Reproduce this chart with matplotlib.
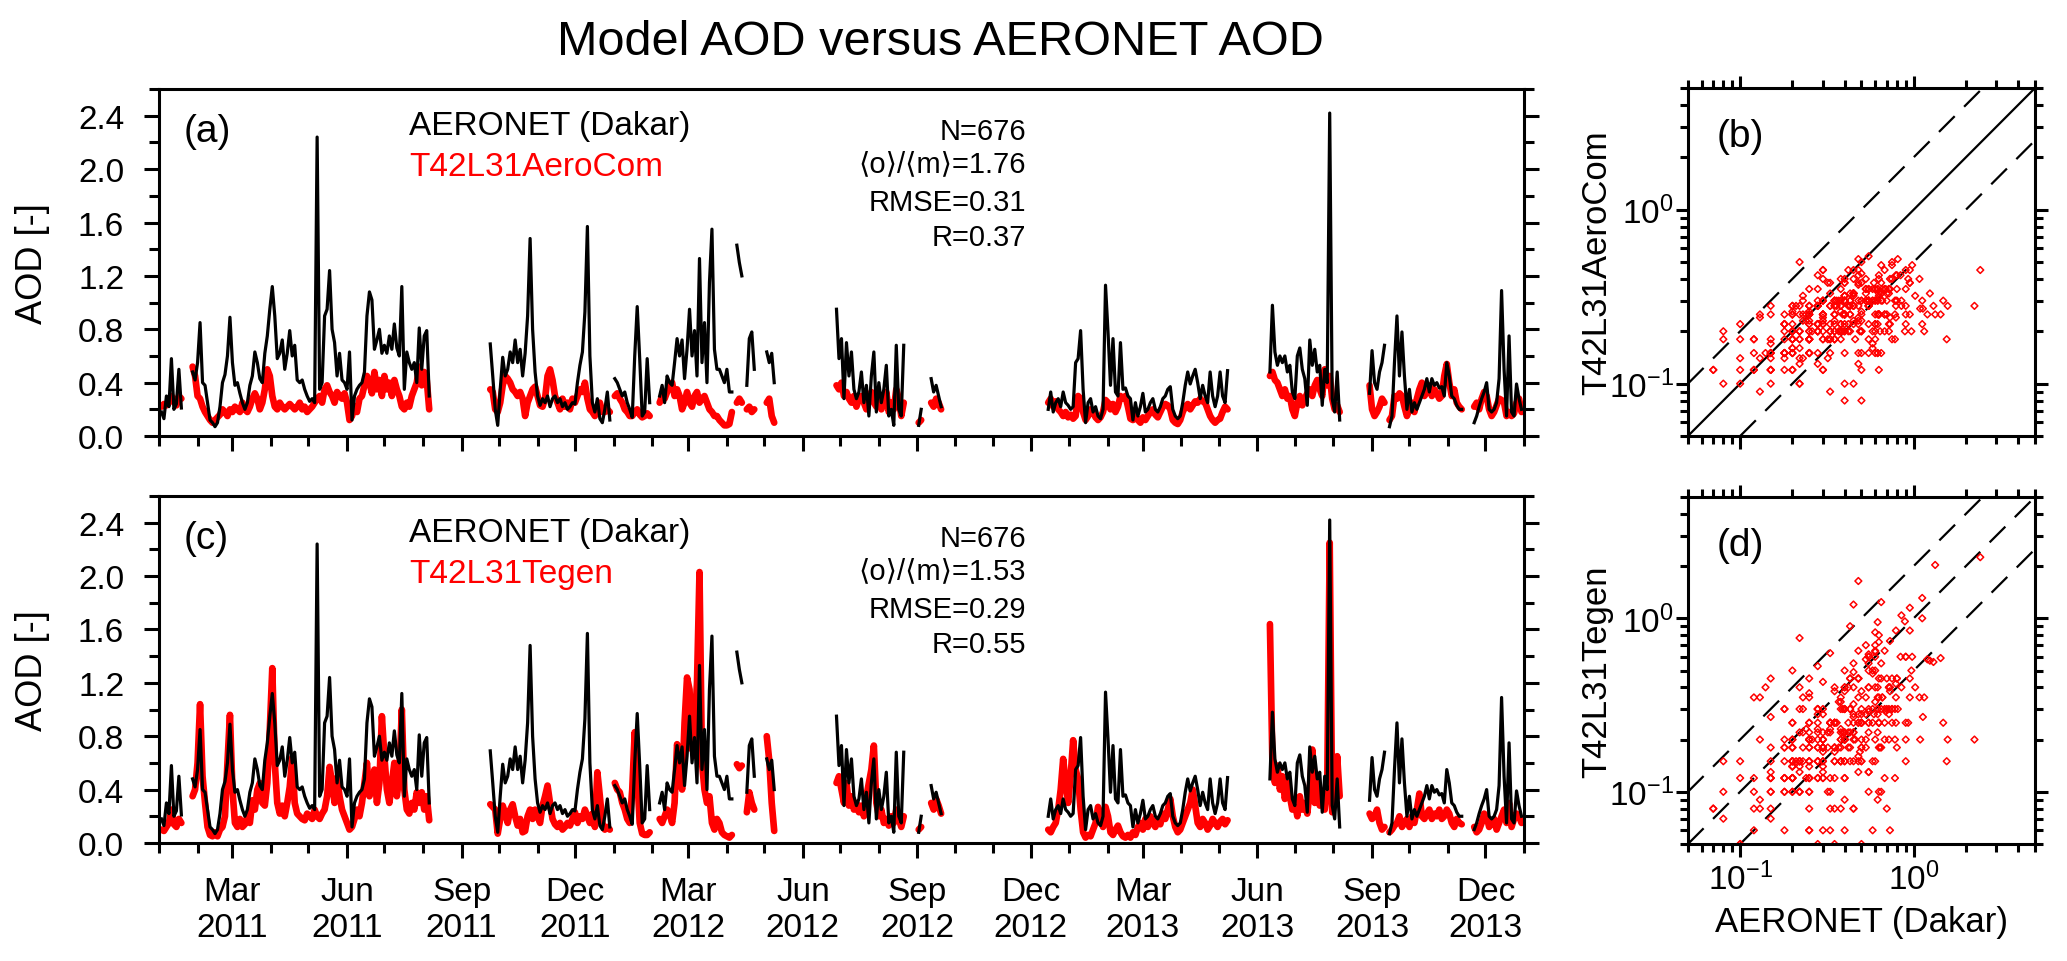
import numpy as np
import pandas as pd
import matplotlib
matplotlib.use("Agg")
import matplotlib.pyplot as plt
import matplotlib.dates as mdates
from matplotlib.ticker import MultipleLocator, LogLocator, FuncFormatter, NullFormatter

plt.rcParams["font.family"] = ["Liberation Sans", "DejaVu Sans"]
plt.rcParams["mathtext.default"] = "regular"

# AERONET Dakar and model AOD, every second day
# each row of the lists below is one stretch of observations without a gap
seg_start = [
    "2011-01-03", "2011-01-28", "2011-09-24", "2012-01-02", "2012-02-07",
    "2012-04-09", "2012-04-17", "2012-05-03", "2012-06-28", "2012-09-02",
    "2012-09-12", "2012-12-15", "2013-06-11", "2013-08-30", "2013-09-15",
    "2013-11-22",
]

aeronet = [
    [0.18, 0.13, 0.30, 0.22, 0.58, 0.20, 0.24, 0.50, 0.21],
    [0.48, 0.42, 0.55, 0.85, 0.40, 0.38, 0.25, 0.12, 0.10, 0.07,
     0.10, 0.22, 0.40, 0.46, 0.60, 0.89, 0.55, 0.38, 0.40, 0.32,
     0.25, 0.20, 0.25, 0.38, 0.45, 0.63, 0.55, 0.43, 0.40, 0.62,
     0.75, 0.95, 1.12, 0.90, 0.58, 0.62, 0.72, 0.50, 0.62, 0.79,
     0.60, 0.68, 0.42, 0.40, 0.42, 0.35, 0.30, 0.26, 0.28, 0.25,
     2.24, 0.35, 0.40, 0.90, 0.95, 1.24, 0.80, 0.70, 0.45, 0.62,
     0.42, 0.40, 0.35, 0.63, 0.12, 0.30, 0.35, 0.38, 0.40, 0.48,
     0.90, 1.08, 1.02, 0.65, 0.72, 0.80, 0.62, 0.68, 0.62, 0.75,
     0.65, 0.84, 0.66, 0.60, 1.12, 0.35, 0.63, 0.55, 0.50, 0.55,
     0.40, 0.81, 0.50, 0.75, 0.79, 0.30],
    [0.69, 0.45, 0.20, 0.08, 0.35, 0.59, 0.45, 0.50, 0.63, 0.55,
     0.72, 0.55, 0.65, 0.45, 0.62, 0.90, 1.48, 0.80, 0.48, 0.30,
     0.23, 0.28, 0.25, 0.30, 0.22, 0.28, 0.30, 0.25, 0.28, 0.22,
     0.25, 0.20, 0.22, 0.25, 0.24, 0.40, 0.53, 0.63, 0.93, 1.57,
     0.60, 0.25, 0.18, 0.28, 0.13, 0.10, 0.20, 0.33, 0.12],
    [0.43, 0.40, 0.35, 0.30, 0.33, 0.25, 0.20, 0.14, 0.60, 0.97,
     0.58, 0.15, 0.18, 0.58, 0.25],
    [0.30, 0.38, 0.25, 0.45, 0.40, 0.38, 0.55, 0.73, 0.60, 0.72,
     0.43, 0.65, 0.95, 0.60, 0.79, 0.45, 1.33, 0.55, 0.85, 0.40,
     1.15, 1.55, 0.65, 0.50, 0.50, 0.45, 0.40, 0.50, 0.33, 0.33],
    [1.43, 1.30, 1.20],
    [0.38, 0.73, 0.78, 0.50],
    [0.63, 0.55, 0.62, 0.40],
    [0.95, 0.58, 0.73, 0.28, 0.70, 0.45, 0.63, 0.35, 0.28, 0.33,
     0.48, 0.25, 0.38, 0.15, 0.45, 0.63, 0.18, 0.40, 0.25, 0.35,
     0.53, 0.15, 0.20, 0.08, 0.68, 0.20, 0.15, 0.68],
    [0.08, 0.20],
    [0.43, 0.33, 0.38, 0.30, 0.22],
    [0.20, 0.33, 0.18, 0.25, 0.28, 0.22, 0.33, 0.25, 0.23, 0.20,
     0.22, 0.55, 0.58, 0.79, 0.35, 0.10, 0.25, 0.28, 0.18, 0.22,
     0.15, 0.13, 0.20, 1.13, 0.78, 0.38, 0.73, 0.33, 0.30, 0.70,
     0.35, 0.36, 0.30, 0.28, 0.12, 0.25, 0.15, 0.22, 0.32, 0.18,
     0.20, 0.25, 0.28, 0.20, 0.18, 0.22, 0.28, 0.30, 0.35, 0.37,
     0.20, 0.15, 0.13, 0.15, 0.25, 0.38, 0.48, 0.39, 0.45, 0.50,
     0.40, 0.28, 0.38, 0.30, 0.25, 0.48, 0.30, 0.22, 0.30, 0.48,
     0.30, 0.25, 0.49],
    [0.48, 0.98, 0.63, 0.53, 0.60, 0.55, 0.60, 0.48, 0.53, 0.33,
     0.28, 0.60, 0.66, 0.50, 0.43, 0.23, 0.72, 0.53, 0.65, 0.48,
     0.53, 0.23, 0.50, 0.40, 2.42, 0.28, 0.18, 0.48, 0.12],
    [0.32, 0.64, 0.40, 0.35, 0.48, 0.55, 0.68],
    [0.07, 0.15, 0.55, 0.90, 0.45, 0.78, 0.45, 0.20, 0.35, 0.18,
     0.25, 0.20, 0.25, 0.30, 0.35, 0.43, 0.33, 0.43, 0.38, 0.40,
     0.36, 0.37, 0.30, 0.55, 0.45, 0.30, 0.28, 0.23, 0.20, 0.20],
    [0.10, 0.15, 0.22, 0.28, 0.33, 0.40, 0.20, 0.18, 0.20, 0.25,
     0.43, 1.09, 0.50, 0.15, 0.75, 0.18, 0.15, 0.39, 0.28, 0.20],
]

aerocom = [
    [0.22, 0.24, 0.23, 0.25, 0.30, 0.26, 0.23, 0.30, 0.28],
    [0.52, 0.45, 0.30, 0.28, 0.22, 0.18, 0.15, 0.12, 0.10, 0.12,
     0.14, 0.16, 0.20, 0.18, 0.15, 0.20, 0.18, 0.22, 0.20, 0.18,
     0.25, 0.20, 0.18, 0.22, 0.28, 0.32, 0.28, 0.20, 0.25, 0.35,
     0.50, 0.45, 0.30, 0.22, 0.20, 0.25, 0.22, 0.20, 0.22, 0.24,
     0.22, 0.20, 0.22, 0.25, 0.20, 0.22, 0.18, 0.20, 0.22, 0.25,
     0.28, 0.30, 0.25, 0.35, 0.38, 0.33, 0.30, 0.25, 0.33, 0.30,
     0.28, 0.32, 0.25, 0.12, 0.15, 0.22, 0.18, 0.28, 0.30, 0.38,
     0.45, 0.40, 0.32, 0.48, 0.35, 0.42, 0.30, 0.45, 0.35, 0.40,
     0.30, 0.42, 0.35, 0.30, 0.22, 0.20, 0.25, 0.22, 0.30, 0.35,
     0.40, 0.52, 0.38, 0.48, 0.42, 0.20],
    [0.35, 0.33, 0.20, 0.18, 0.25, 0.38, 0.45, 0.43, 0.40, 0.35,
     0.33, 0.30, 0.33, 0.28, 0.15, 0.25, 0.30, 0.35, 0.37, 0.30,
     0.23, 0.22, 0.28, 0.45, 0.50, 0.42, 0.30, 0.25, 0.20, 0.28,
     0.22, 0.25, 0.20, 0.28, 0.25, 0.30, 0.35, 0.33, 0.40, 0.28,
     0.20, 0.18, 0.15, 0.22, 0.25, 0.18, 0.18, 0.20, 0.18],
    [0.30, 0.32, 0.28, 0.25, 0.20, 0.18, 0.15, 0.15, 0.18, 0.20,
     0.16, 0.14, 0.15, 0.17, 0.15],
    [0.25, 0.30, 0.28, 0.33, 0.38, 0.40, 0.30, 0.35, 0.30, 0.20,
     0.25, 0.33, 0.25, 0.22, 0.30, 0.33, 0.25, 0.28, 0.30, 0.25,
     0.20, 0.18, 0.15, 0.15, 0.12, 0.10, 0.08, 0.08, 0.09, 0.18],
    [0.25, 0.28, 0.25],
    [0.20, 0.22, 0.18, 0.20],
    [0.25, 0.28, 0.15, 0.10],
    [0.38, 0.35, 0.40, 0.30, 0.33, 0.28, 0.25, 0.30, 0.22, 0.28,
     0.30, 0.25, 0.20, 0.28, 0.33, 0.25, 0.22, 0.30, 0.20, 0.25,
     0.33, 0.18, 0.25, 0.20, 0.35, 0.28, 0.15, 0.25],
    [0.10, 0.12],
    [0.25, 0.22, 0.28, 0.25, 0.20],
    [0.25, 0.28, 0.22, 0.26, 0.20, 0.18, 0.15, 0.18, 0.14, 0.16,
     0.13, 0.15, 0.30, 0.28, 0.18, 0.12, 0.15, 0.20, 0.18, 0.14,
     0.12, 0.14, 0.18, 0.27, 0.25, 0.20, 0.24, 0.18, 0.22, 0.30,
     0.28, 0.30, 0.22, 0.13, 0.12, 0.15, 0.12, 0.10, 0.14, 0.12,
     0.15, 0.18, 0.20, 0.16, 0.14, 0.18, 0.22, 0.24, 0.23, 0.20,
     0.12, 0.10, 0.09, 0.12, 0.18, 0.22, 0.24, 0.20, 0.23, 0.26,
     0.25, 0.28, 0.26, 0.25, 0.20, 0.15, 0.12, 0.10, 0.12, 0.13,
     0.18, 0.22, 0.20],
    [0.45, 0.48, 0.42, 0.40, 0.35, 0.30, 0.35, 0.28, 0.30, 0.20,
     0.15, 0.25, 0.30, 0.23, 0.28, 0.32, 0.35, 0.30, 0.38, 0.42,
     0.35, 0.30, 0.50, 0.38, 0.45, 0.28, 0.20, 0.23, 0.18],
    [0.38, 0.20, 0.15, 0.18, 0.22, 0.28, 0.25],
    [0.12, 0.15, 0.30, 0.28, 0.32, 0.30, 0.22, 0.15, 0.20, 0.25,
     0.18, 0.28, 0.35, 0.40, 0.30, 0.33, 0.38, 0.30, 0.35, 0.32,
     0.28, 0.30, 0.45, 0.54, 0.40, 0.30, 0.35, 0.25, 0.22, 0.20],
    [0.22, 0.25, 0.20, 0.28, 0.33, 0.30, 0.20, 0.15, 0.18, 0.23,
     0.28, 0.27, 0.25, 0.15, 0.18, 0.15, 0.17, 0.25, 0.28, 0.18],
]

tegen = [
    [0.10, 0.09, 0.12, 0.15, 0.25, 0.14, 0.12, 0.18, 0.15],
    [0.35, 0.40, 0.60, 1.04, 0.50, 0.30, 0.12, 0.06, 0.05, 0.08,
     0.05, 0.10, 0.12, 0.20, 0.60, 0.96, 0.40, 0.15, 0.12, 0.18,
     0.12, 0.14, 0.20, 0.15, 0.32, 0.25, 0.40, 0.45, 0.30, 0.28,
     0.45, 0.85, 1.31, 0.60, 0.30, 0.22, 0.28, 0.20, 0.30, 0.42,
     0.64, 0.30, 0.22, 0.20, 0.18, 0.17, 0.22, 0.20, 0.18, 0.25,
     0.20, 0.18, 0.22, 0.25, 0.35, 0.57, 0.45, 0.30, 0.49, 0.35,
     0.25, 0.20, 0.15, 0.10, 0.12, 0.18, 0.25, 0.20, 0.30, 0.45,
     0.60, 0.35, 0.40, 0.55, 0.30, 0.45, 0.95, 0.65, 0.40, 0.30,
     0.45, 0.60, 0.35, 0.50, 1.00, 0.40, 0.25, 0.22, 0.30, 0.25,
     0.38, 0.30, 0.38, 0.25, 0.35, 0.17],
    [0.29, 0.27, 0.25, 0.07, 0.18, 0.28, 0.22, 0.15, 0.25, 0.29,
     0.20, 0.13, 0.18, 0.08, 0.09, 0.20, 0.25, 0.18, 0.25, 0.20,
     0.15, 0.28, 0.35, 0.43, 0.30, 0.18, 0.14, 0.12, 0.15, 0.10,
     0.12, 0.15, 0.13, 0.18, 0.23, 0.15, 0.20, 0.18, 0.25, 0.20,
     0.15, 0.22, 0.12, 0.53, 0.35, 0.15, 0.10, 0.12, 0.10],
    [0.45, 0.40, 0.38, 0.30, 0.25, 0.18, 0.15, 0.40, 0.83, 0.50,
     0.15, 0.07, 0.06, 0.06, 0.08],
    [0.18, 0.15, 0.20, 0.25, 0.22, 0.15, 0.30, 0.74, 0.65, 0.40,
     0.90, 1.24, 1.15, 0.70, 0.85, 1.20, 2.03, 0.60, 0.40, 0.30,
     0.35, 0.15, 0.10, 0.18, 0.15, 0.08, 0.06, 0.05, 0.04, 0.06],
    [0.59, 0.56, 0.58],
    [0.23, 0.38, 0.30, 0.25],
    [0.80, 0.62, 0.30, 0.09],
    [0.45, 0.50, 0.40, 0.30, 0.45, 0.28, 0.35, 0.25, 0.30, 0.23,
     0.28, 0.20, 0.35, 0.45, 0.55, 0.73, 0.30, 0.20, 0.25, 0.15,
     0.18, 0.13, 0.20, 0.15, 0.25, 0.18, 0.12, 0.20],
    [0.10, 0.12],
    [0.30, 0.25, 0.33, 0.28, 0.22],
    [0.10, 0.08, 0.12, 0.15, 0.25, 0.40, 0.63, 0.45, 0.30, 0.50,
     0.77, 0.55, 0.48, 0.25, 0.08, 0.04, 0.06, 0.05, 0.10, 0.15,
     0.27, 0.20, 0.12, 0.27, 0.20, 0.08, 0.06, 0.10, 0.13, 0.08,
     0.05, 0.04, 0.06, 0.04, 0.08, 0.06, 0.12, 0.15, 0.10, 0.18,
     0.12, 0.20, 0.15, 0.12, 0.18, 0.14, 0.22, 0.18, 0.25, 0.33,
     0.20, 0.12, 0.08, 0.10, 0.15, 0.20, 0.25, 0.30, 0.40, 0.28,
     0.15, 0.12, 0.18, 0.15, 0.10, 0.13, 0.18, 0.15, 0.12, 0.16,
     0.18, 0.14, 0.17],
    [1.64, 0.60, 0.45, 0.58, 0.40, 0.50, 0.33, 0.45, 0.35, 0.25,
     0.30, 0.20, 0.35, 0.25, 0.30, 0.22, 0.40, 0.70, 0.30, 0.45,
     0.28, 0.35, 0.25, 0.40, 2.25, 0.23, 0.30, 0.65, 0.35],
    [0.22, 0.18, 0.20, 0.25, 0.15, 0.10, 0.12],
    [0.08, 0.10, 0.13, 0.15, 0.20, 0.12, 0.15, 0.18, 0.12, 0.20,
     0.15, 0.25, 0.37, 0.20, 0.18, 0.22, 0.25, 0.18, 0.22, 0.20,
     0.25, 0.18, 0.20, 0.25, 0.22, 0.15, 0.12, 0.18, 0.15, 0.14],
    [0.12, 0.08, 0.10, 0.15, 0.22, 0.20, 0.12, 0.15, 0.18, 0.10,
     0.15, 0.20, 0.25, 0.15, 0.30, 0.12, 0.18, 0.22, 0.20, 0.15],
]

model_names = ["T42L31AeroCom", "T42L31Tegen"]
stats_text = [
    ["N=676", "\u27e8o\u27e9/\u27e8m\u27e9=1.76", "RMSE=0.31", "R=0.37"],
    ["N=676", "\u27e8o\u27e9/\u27e8m\u27e9=1.53", "RMSE=0.29", "R=0.55"],
]

for series in (aerocom, tegen):
    for o, m in zip(aeronet, series):
        assert len(o) == len(m)

SPINE_W = 2.2


def style_spines(ax):
    for s in ax.spines.values():
        s.set_linewidth(SPINE_W)


def time_panel(ax, model, name, tag, stats, show_dates):
    for start, obs_v, mod_v in zip(seg_start, aeronet, model):
        t = pd.date_range(start, periods=len(obs_v), freq="2D")
        ax.plot(t, mod_v, color="red", lw=4.8,
                solid_capstyle="round", solid_joinstyle="round", zorder=2)
        ax.plot(t, obs_v, color="black", lw=2.3, zorder=3)

    ax.set_xlim(pd.Timestamp("2011-01-01"), pd.Timestamp("2014-01-01"))
    ax.set_ylim(0, 2.6)
    ax.yaxis.set_major_locator(MultipleLocator(0.4))
    ax.yaxis.set_minor_locator(MultipleLocator(0.2))
    ax.yaxis.set_major_formatter(FuncFormatter(lambda v, p: f"{v:.1f}"))
    ax.xaxis.set_major_locator(mdates.MonthLocator(bymonth=[3, 6, 9, 12]))
    ax.xaxis.set_minor_locator(mdates.MonthLocator())
    ax.xaxis.set_major_formatter(mdates.DateFormatter("%b\n%Y"))

    ax.tick_params(which="both", direction="out", top=False, right=True,
                   width=SPINE_W, labelsize=24)
    ax.tick_params(which="major", length=11)
    ax.tick_params(which="minor", length=7)
    ax.tick_params(axis="y", pad=14)
    ax.tick_params(axis="x", pad=13)
    if not show_dates:
        ax.tick_params(axis="x", labelbottom=False)
    style_spines(ax)

    ax.text(-0.093, 0.5, "AOD [-]", rotation=90, ha="center", va="center",
            fontsize=26, transform=ax.transAxes)
    ax.text(0.018, 0.879, tag, ha="left", va="center", fontsize=28,
            transform=ax.transAxes)
    ax.text(0.183, 0.870, "AERONET (Dakar)", ha="left", va="baseline",
            fontsize=24, color="black", transform=ax.transAxes)
    ax.text(0.183, 0.752, name, ha="left", va="baseline",
            fontsize=24, color="red", transform=ax.transAxes)
    for line, ypos in zip(stats, [0.856, 0.764, 0.651, 0.550]):
        ax.text(0.635, ypos, line, ha="right", va="baseline", fontsize=21,
                transform=ax.transAxes)


def log_label(v, p):
    return f"$10^{{{int(round(np.log10(v)))}}}$"


def scatter_panel(ax, model, name, tag, solid_diag, show_xlabels):
    obs_all = np.concatenate([np.asarray(s) for s in aeronet])
    mod_all = np.concatenate([np.asarray(s) for s in model])
    ax.set_xscale("log")
    ax.set_yscale("log")
    ax.set_xlim(0.05, 5)
    ax.set_ylim(0.05, 5)

    dash = (0, (10, 6))
    ax.axline((0.1, 0.2), (1, 2), color="black", lw=1.6, ls=dash, zorder=1)
    ax.axline((0.1, 0.05), (1, 0.5), color="black", lw=1.6, ls=dash, zorder=1)
    ax.axline((0.1, 0.1), (1, 1), color="black", lw=1.6,
              ls="-" if solid_diag else dash, zorder=1)

    ax.scatter(obs_all, mod_all, marker="D", s=12, facecolors="none",
               edgecolors="red", linewidths=1.1, zorder=2)

    for axis in (ax.xaxis, ax.yaxis):
        axis.set_major_locator(LogLocator(base=10))
        axis.set_minor_locator(LogLocator(base=10, subs=np.arange(2, 10)))
        axis.set_major_formatter(FuncFormatter(log_label))
        axis.set_minor_formatter(NullFormatter())

    ax.tick_params(which="both", direction="out", top=True, right=True,
                   width=SPINE_W, labelsize=24)
    ax.tick_params(which="major", length=9)
    ax.tick_params(which="minor", length=6)
    ax.tick_params(axis="y", pad=1)
    ax.tick_params(axis="x", pad=4)
    if not show_xlabels:
        ax.tick_params(axis="x", labelbottom=False)
    style_spines(ax)

    ax.text(0.084, 0.862, tag, ha="left", va="center", fontsize=28,
            transform=ax.transAxes)
    ax.text(-0.262, 0.5, name, rotation=90, ha="center", va="center",
            fontsize=25, transform=ax.transAxes)
    if show_xlabels:
        ax.text(0.5, -0.251, "AERONET (Dakar)", ha="center", va="baseline",
                fontsize=25, transform=ax.transAxes)


fig = plt.figure(figsize=(20.67, 9.62), dpi=100)

ax_a = fig.add_axes([0.0769, 0.5457, 0.6604, 0.3607])
ax_c = fig.add_axes([0.0769, 0.1227, 0.6604, 0.3607])
ax_b = fig.add_axes([0.8166, 0.5457, 0.1679, 0.3617])
ax_d = fig.add_axes([0.8166, 0.1216, 0.1679, 0.3607])

time_panel(ax_a, aerocom, model_names[0], "(a)", stats_text[0], False)
time_panel(ax_c, tegen, model_names[1], "(c)", stats_text[1], True)
scatter_panel(ax_b, aerocom, model_names[0], "(b)", True, False)
scatter_panel(ax_d, tegen, model_names[1], "(d)", False, True)

fig.text(0.455, 0.9428, "Model AOD versus AERONET AOD", ha="center",
         va="baseline", fontsize=35)

fig.savefig("out.png", dpi=100)
